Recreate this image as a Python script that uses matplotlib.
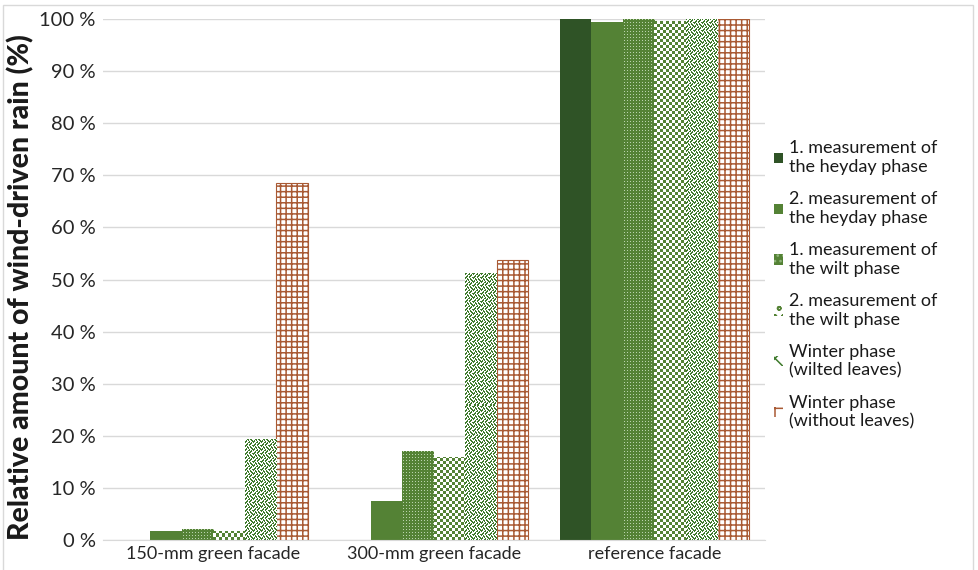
import numpy as np
import matplotlib
matplotlib.use("Agg")
import matplotlib.pyplot as plt
from matplotlib.patches import Patch, Rectangle

plt.rcParams['font.family'] = ['Lato', 'DejaVu Sans']

categories = ["150-mm green facade", "300-mm green facade", "reference facade"]
series_names = [
    "1. measurement of\nthe heyday phase",
    "2. measurement of\nthe heyday phase",
    "1. measurement of\nthe wilt phase",
    "2. measurement of\nthe wilt phase",
    "Winter phase\n(wilted leaves)",
    "Winter phase\n(without leaves)",
]
heyday_1 = [0.0, 0.0, 100.0]
heyday_2 = [1.7, 7.5, 99.5]
wilt_1 = [2.1, 17.0, 100.0]
wilt_2 = [1.8, 16.0, 99.6]
winter_wilted = [19.4, 51.3, 100.0]
winter_bare = [68.5, 53.7, 100.0]
values = [heyday_1, heyday_2, wilt_1, wilt_2, winter_wilted, winter_bare]
yticks = list(range(0, 101, 10))

DARK = "#2F5326"
GREEN = "#548235"
BROWN = "#A95A34"

fig = plt.figure(figsize=(9.79, 5.70), dpi=100)
ax = fig.add_axes([0.105, 0.0526, 0.676, 0.914])

x = np.arange(len(categories))
w = 0.143


def tiled_fill(ax, bar, tile, color, back="white"):
    """Fill a bar with a repeating two-colour pixel tile, clipped to the bar."""
    fig.canvas.draw()
    bb = bar.get_window_extent()
    nx = max(int(round(bb.width)), 1)
    ny = max(int(round(bb.height)), 1)
    th, tw = tile.shape
    reps = (ny // th + 2, nx // tw + 2)
    big = np.tile(tile, reps)[:ny, :nx]
    rgb = np.empty((ny, nx, 3))
    rgb[:] = matplotlib.colors.to_rgb(back)
    rgb[big == 1] = matplotlib.colors.to_rgb(color)
    x0 = bar.get_x()
    im = ax.imshow(rgb, extent=(x0, x0 + bar.get_width(), 0, bar.get_height()),
                   origin='lower', interpolation='nearest', aspect='auto', zorder=2)
    im.set_clip_path(bar)


checker = np.array([[1, 1, 1, 0, 0, 0],
                    [1, 1, 1, 0, 0, 0],
                    [1, 1, 1, 0, 0, 0],
                    [0, 0, 0, 1, 1, 1],
                    [0, 0, 0, 1, 1, 1],
                    [0, 0, 0, 1, 1, 1]])
confetti = np.array([[1, 0, 0, 1, 1, 0, 1, 0],
                     [1, 1, 0, 0, 1, 0, 0, 1],
                     [0, 1, 0, 1, 0, 0, 1, 1],
                     [0, 0, 1, 1, 0, 1, 1, 0],
                     [1, 0, 1, 0, 0, 1, 0, 0],
                     [1, 1, 0, 0, 1, 0, 0, 1],
                     [0, 1, 1, 0, 1, 1, 0, 0],
                     [0, 0, 1, 0, 0, 1, 1, 0]])
dots = np.array([[1, 1, 1],
                 [1, 0, 1],
                 [1, 1, 1]])

styles = [
    dict(face=DARK, tile=None),
    dict(face=GREEN, tile=None),
    dict(face=GREEN, tile=dots, color=GREEN, back="#B9D2AC"),
    dict(face="white", tile=checker, color=GREEN),
    dict(face="white", tile=confetti, color="#3E7A2C"),
    dict(face="white", hatch="+++", hcolor=BROWN),
]

ax.set_xlim(-0.5, 2.5)
ax.set_ylim(0, 100)

plt.rcParams['hatch.linewidth'] = 1.1
bar_groups = []
for i, (vals, st) in enumerate(zip(values, styles)):
    pos = x + (i - 2.5) * w
    if "hatch" in st:
        bars = ax.bar(pos, vals, w, color=st["face"], edgecolor=st["hcolor"],
                      hatch=st["hatch"], linewidth=0.8, zorder=2)
    else:
        bars = ax.bar(pos, vals, w, color=st["face"], linewidth=0, zorder=2)
    bar_groups.append(bars)

for bars, st in zip(bar_groups, styles):
    if st.get("tile") is not None:
        for b in bars:
            if b.get_height() > 0:
                tiled_fill(ax, b, st["tile"], st["color"], st.get("back", "white"))

ax.set_yticks(yticks)
ax.set_yticklabels([f"{t} %" for t in yticks], fontsize=14.5, color="#262626")
ax.set_xticks(x)
ax.set_xticklabels(categories, fontsize=13, color="#262626")
ax.tick_params(axis='both', length=0)
ax.tick_params(axis='y', pad=5)
ax.tick_params(axis='x', pad=4)
ax.yaxis.grid(True, color="#D9D9D9", linewidth=1.0, zorder=0)
ax.set_axisbelow(True)
for s in ["top", "right", "left"]:
    ax.spines[s].set_visible(False)
ax.spines["bottom"].set_color("#D9D9D9")
ax.set_ylabel("Relative amount of wind-driven rain (%)", fontsize=20.5,
              fontweight="black", color="#1a1a1a")
ax.yaxis.set_label_coords(-0.104, 0.485)

handles = [
    Patch(facecolor=DARK, edgecolor="none"),
    Patch(facecolor=GREEN, edgecolor="none"),
    Patch(facecolor=GREEN, edgecolor="#8FB47A", hatch="...", linewidth=0),
    Patch(facecolor="white", edgecolor=GREEN, hatch="oo", linewidth=0),
    Patch(facecolor="white", edgecolor="#3E7A2C", hatch="xx", linewidth=0),
    Patch(facecolor="white", edgecolor=BROWN, hatch="+", linewidth=0),
]
fig.legend(handles, series_names, loc="center left",
           bbox_to_anchor=(0.778, 0.5), frameon=False, fontsize=13,
           handlelength=0.5, handleheight=0.5, handletextpad=0.3,
           labelspacing=0.9, labelcolor="#1a1a1a", borderpad=0.2)

fig.patches.append(Rectangle((0.003, -0.01), 0.991, 1.001, transform=fig.transFigure,
                             fill=False, edgecolor="#D9D9D9", linewidth=1.0))

fig.savefig("out.png", dpi=100)
